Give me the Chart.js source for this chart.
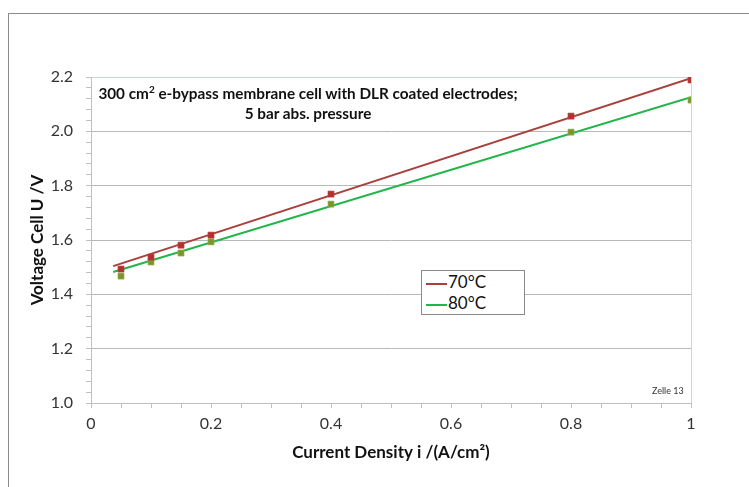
<!DOCTYPE html>
<html>
<head>
<meta charset="utf-8">
<script src="https://cdn.jsdelivr.net/npm/chart.js@4/dist/chart.umd.min.js"></script>
<style>
  html, body { margin: 0; padding: 0; background: #fff; overflow: hidden; }
  #wrap { position: relative; width: 749px; height: 487px; }
  #frame { position: absolute; left: 8px; top: 13px; width: 800px; height: 600px; border-left: 1px solid #8c8c8c; border-top: 1px solid #8c8c8c; }
  #note { position: absolute; left: 72px; top: 83px; width: 472px; text-align: center; font: bold 15.3px Lato, sans-serif; line-height: 20px; color: #111; }
  #note sup { font-size: 10px; line-height: 0; }
  #legend { position: absolute; left: 421px; top: 270px; width: 102px; height: 43px; border: 1px solid #8a8a8a; background: #fff; font: 17px Lato, sans-serif; color: #111; }
  #legend div { height: 21px; line-height: 21px; padding-left: 4px; }
  #legend span { display: inline-block; width: 21px; height: 2px; vertical-align: middle; margin-right: 1px; }
  #zelle { position: absolute; left: 652px; top: 385px; font: 9px Lato, sans-serif; color: #333; }
  canvas { position: absolute; left: 0; top: 0; }
</style>
</head>
<body>
<div id="wrap">
  <div id="frame"></div>
  <canvas id="chart" width="749" height="487"></canvas>
  <div id="note">300 cm<sup>2</sup> e-bypass membrane cell with DLR coated electrodes;<br>5 bar abs. pressure</div>
  <div id="legend">
    <div><span style="background:#a8403c"></span>70°C</div>
    <div><span style="background:#22b54a"></span>80°C</div>
  </div>
  <div id="zelle">Zelle 13</div>
</div>
<script>
// current density i (A/cm2)
const currentDensity = [0.05, 0.1, 0.15, 0.2, 0.4, 0.8, 1.0];
// measured cell voltage (V)
const volt70 = [1.493, 1.537, 1.581, 1.618, 1.769, 2.056, 2.189];
const volt80 = [1.467, 1.519, 1.552, 1.593, 1.732, 1.997, 2.115];
// trend line end points
const trendX = [0.037, 1.0];
const trend70 = [1.504, 2.196];
const trend80 = [1.482, 2.126];

const seriesNames = ['70°C', '80°C'];

function pts(xs, ys) {
  return xs.map((x, i) => ({ x: x, y: ys[i] }));
}

function isMajor(v, step) {
  const r = v / step;
  return Math.abs(r - Math.round(r)) < 1e-6;
}

const ctx = document.getElementById('chart').getContext('2d');

const chart = new Chart(ctx, {
  type: 'scatter',
  data: {
    datasets: [
      {
        label: seriesNames[0] + ' trend',
        data: pts(trendX, trend70),
        showLine: true,
        borderColor: '#a8403c',
        borderWidth: 2,
        pointRadius: 0,
        order: 2
      },
      {
        label: seriesNames[1] + ' trend',
        data: pts(trendX, trend80),
        showLine: true,
        borderColor: '#22b54a',
        borderWidth: 2,
        pointRadius: 0,
        order: 2
      },
      {
        label: seriesNames[0],
        data: pts(currentDensity, volt70),
        pointStyle: 'rect',
        pointRadius: 4.3,
        pointBackgroundColor: '#b2302e',
        pointBorderColor: '#bf4643',
        pointBorderWidth: 0.6,
        order: 1
      },
      {
        label: seriesNames[1],
        data: pts(currentDensity, volt80),
        pointStyle: 'rect',
        pointRadius: 4.3,
        pointBackgroundColor: '#7b952c',
        pointBorderColor: '#9cb854',
        pointBorderWidth: 0.6,
        order: 1
      }
    ]
  },
  options: {
    responsive: false,
    animation: false,
    layout: { padding: { left: 0, right: 58, top: 77, bottom: 0 } },
    plugins: {
      legend: { display: false },
      tooltip: { enabled: false }
    },
    scales: {
      x: {
        type: 'linear',
        min: 0,
        max: 1,
        afterFit: (s) => { s.height = 84; },
        ticks: {
          stepSize: 0.05,
          autoSkip: false,
          maxRotation: 0,
          padding: 6,
          color: '#333',
          font: { family: 'Lato', size: 16 },
          callback: (v) => isMajor(v, 0.2) ? String(Math.round(v * 10) / 10) : ''
        },
        grid: {
          color: (c) => (c.tick && Math.abs(c.tick.value - 1) < 1e-6) ? '#c5d5ea' : 'rgba(0,0,0,0)',
          tickColor: '#bfbfbf',
          tickLength: 5,
          lineWidth: 1
        },
        border: { color: '#bfbfbf', width: 1 },
        title: {
          display: true,
          text: 'Current Density i /(A/cm²)',
          color: '#111',
          font: { family: 'Lato', size: 17, weight: 'bold' },
          padding: { top: 0, bottom: 24 }
        }
      },
      y: {
        type: 'linear',
        min: 1.0,
        max: 2.2,
        afterFit: (s) => { s.width = 91; },
        ticks: {
          stepSize: 0.04,
          autoSkip: false,
          padding: 13,
          color: '#333',
          font: { family: 'Lato', size: 16 },
          callback: (v) => isMajor(v, 0.2) ? v.toFixed(1) : ''
        },
        grid: {
          color: (c) => {
            if (!c.tick) return 'rgba(0,0,0,0)';
            const v = c.tick.value;
            if (Math.abs(v - 2.2) < 1e-6) return '#c5d5ea';
            return isMajor(v, 0.2) ? '#b8b8b8' : 'rgba(0,0,0,0)';
          },
          tickColor: '#bfbfbf',
          tickLength: 5,
          lineWidth: 1
        },
        border: { color: '#bfbfbf', width: 1 },
        title: {
          display: true,
          text: 'Voltage Cell U /V',
          color: '#111',
          font: { family: 'Lato', size: 17, weight: 'bold' },
          padding: { top: 27, bottom: 0 }
        }
      }
    }
  }
});
</script>
</body>
</html>
